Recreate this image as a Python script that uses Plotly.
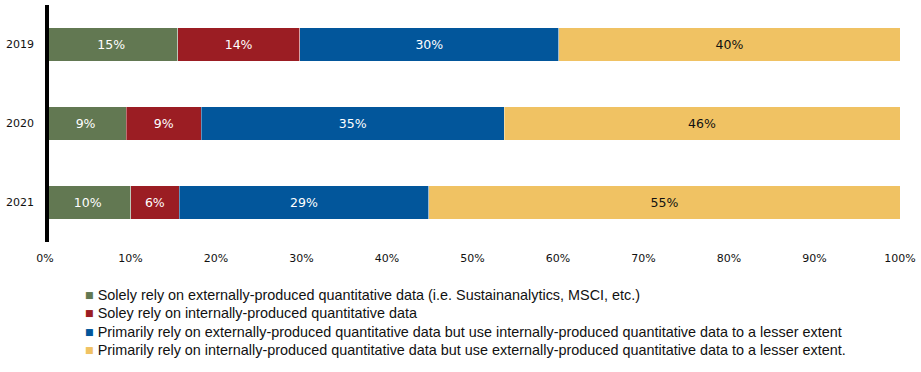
import plotly.graph_objects as go

years = ["2019", "2020", "2021"]
series_names = [
    "Solely rely on externally-produced quantitative data (i.e. Sustainanalytics, MSCI, etc.)",
    "Soley rely on internally-produced quantitative data",
    "Primarily rely on externally-produced quantitative data but use internally-produced quantitative data to a lesser extent",
    "Primarily rely on internally-produced quantitative data but use externally-produced quantitative data to a lesser extent.",
]
# estimated segment widths (share of respondents, %)
ext_only = [15.5, 9.5, 10.0]
int_only = [14.3, 8.8, 5.7]
prim_ext = [30.3, 35.4, 29.2]
prim_int = [39.9, 46.3, 55.1]
# printed labels
ext_only_lbl = ["15%", "9%", "10%"]
int_only_lbl = ["14%", "9%", "6%"]
prim_ext_lbl = ["30%", "35%", "29%"]
prim_int_lbl = ["40%", "46%", "55%"]
tick_vals = [0, 10, 20, 30, 40, 50, 60, 70, 80, 90, 100]
tick_text = ["0%", "10%", "20%", "30%", "40%", "50%", "60%", "70%", "80%", "90%", "100%"]

colors = ["#627852", "#9B1D23", "#02569B", "#F0C263"]
text_colors = ["white", "white", "white", "#111111"]
values = [ext_only, int_only, prim_ext, prim_int]
labels = [ext_only_lbl, int_only_lbl, prim_ext_lbl, prim_int_lbl]

fig = go.Figure()
for name, vals, lbl, c, tc in zip(series_names, values, labels, colors, text_colors):
    fig.add_trace(go.Bar(
        y=years, x=vals, name=name, orientation="h",
        marker=dict(color=c, line=dict(color="rgba(255,255,255,0.6)", width=0.6)),
        text=lbl, textposition="inside", insidetextanchor="middle",
        textfont=dict(family="DejaVu Sans", size=12.5, color=tc),
        hoverinfo="skip", showlegend=False,
    ))

fig.add_shape(type="line", xref="x", yref="paper", x0=0, x1=0, y0=0, y1=1,
              line=dict(color="black", width=8), layer="above")

# legend drawn as text rows with coloured square glyphs
legend_y = [-0.2236, -0.3008, -0.3785, -0.4557]
for name, c, ly in zip(series_names, colors, legend_y):
    fig.add_annotation(
        xref="paper", yref="paper", x=0.0444, y=ly, xanchor="left", yanchor="middle",
        showarrow=False, align="left",
        text=f"<span style='color:{c}'>■</span> {name}",
        font=dict(family="Liberation Sans", size=14.4, color="#111111"),
    )

fig.update_layout(
    barmode="stack",
    bargap=0.57,
    width=921, height=372,
    margin=dict(l=44.5, r=20.5, t=5, b=130),
    plot_bgcolor="white", paper_bgcolor="white",
    font=dict(family="DejaVu Sans", size=11, color="#111111"),
    xaxis=dict(range=[0, 100], tickvals=tick_vals, ticktext=tick_text,
               showgrid=False, zeroline=False, showline=False, automargin=False,
               ticks="", ticklen=0, ticklabelstandoff=8,
               tickfont=dict(size=11, color="#111111")),
    yaxis=dict(autorange="reversed", showgrid=False, zeroline=False, automargin=False,
               showline=False, ticks="", ticklabelstandoff=10,
               tickfont=dict(size=11, color="#111111")),
    showlegend=False,
)

fig.write_html("out.html", config={"displayModeBar": False},
               post_script="document.body.style.margin='0px';document.body.style.overflow='hidden';")
